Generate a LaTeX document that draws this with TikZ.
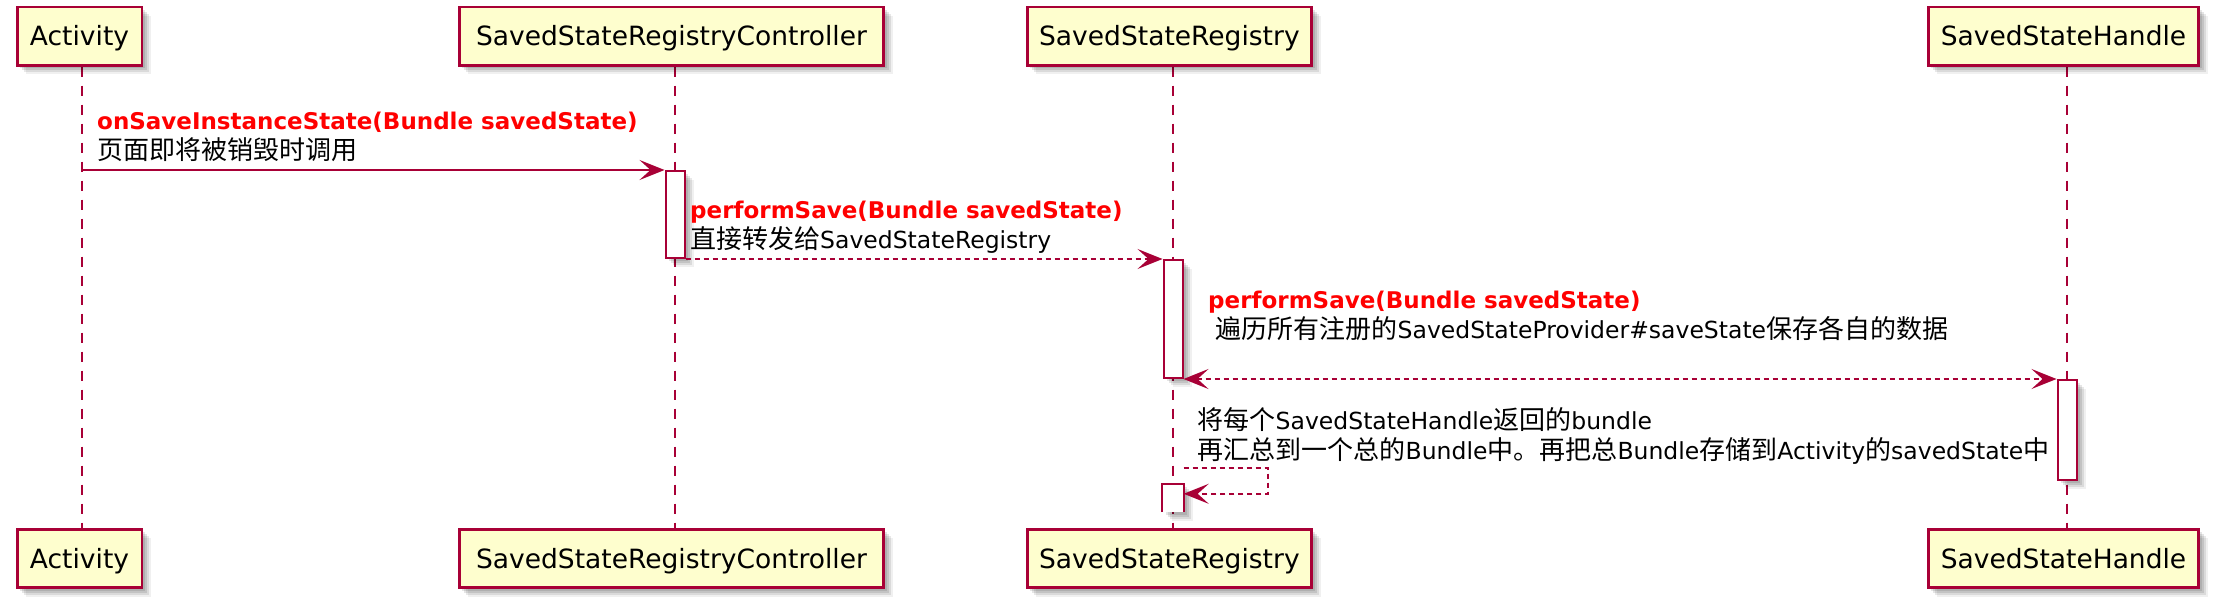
\documentclass[tikz,border=0pt]{standalone}
\usepackage{fontspec}
\setmainfont{DejaVu Sans}
\newfontfamily\cjk{Noto Sans CJK SC}
\usetikzlibrary{arrows.meta,shadows}
\definecolor{pu}{HTML}{A80036}
\definecolor{boxfill}{HTML}{FEFECE}
\definecolor{redtxt}{HTML}{FF0000}
\newcommand\zh[1]{{\cjk\fontsize{26}{30}\selectfont #1}}
\pgfdeclarelayer{bg}
\pgfsetlayers{bg,main}
\tikzset{
  softshadow/.style={
    general shadow={shadow xshift=3pt, shadow yshift=-3pt, fill=black, opacity=0.10},
    general shadow={shadow xshift=5pt, shadow yshift=-5pt, fill=black, opacity=0.10},
    general shadow={shadow xshift=7pt, shadow yshift=-7pt, fill=black, opacity=0.09},
    general shadow={shadow xshift=9pt, shadow yshift=-9pt, fill=black, opacity=0.06}},
  participant/.style={draw=pu, line width=2.8pt, fill=boxfill, inner sep=0pt,
    minimum height=58.2pt, font=\fontsize{26.5}{30}\selectfont,
    text height=19.3pt, text depth=0pt, softshadow},
  actbar/.style={draw=pu, line width=2pt, fill=white, inner sep=0pt,
    minimum width=19pt, softshadow},
  openbar/.style={fill=white, inner sep=0pt, minimum width=21pt, softshadow},
  lifeline/.style={draw=pu, line width=1.9pt, dash pattern=on 10pt off 9pt},
  tip/.tip={Stealth[length=25pt, width=20pt, inset=11pt]},
  msgsolid/.style={draw=pu, line width=2pt, -tip},
  msgdot/.style={draw=pu, line width=2pt, dash pattern=on 5pt off 4pt, -tip},
  msgdotboth/.style={draw=pu, line width=2pt, dash pattern=on 5pt off 4pt, tip-tip},
  lbl/.style={anchor=base west, inner sep=0pt, font=\fontsize{23.5}{28}\selectfont},
  lblred/.style={anchor=base west, inner sep=0pt, text=redtxt,
    font=\fontsize{23}{28}\selectfont\bfseries},
}
\begin{document}
\begin{tikzpicture}[x=1pt,y=-1pt]
\useasboundingbox (0,0) rectangle (2219,609);

% lifeline x positions
\coordinate (LA) at (82,0);
\coordinate (LC) at (675,0);
\coordinate (LR) at (1173,0);
\coordinate (LH) at (2067,0);

% participants
\node[participant, minimum width=124.8pt] (actT)  at (79.5,36.2)   {Activity};
\node[participant, minimum width=424.2pt] (ctrlT) at (671.5,36.2)  {SavedStateRegistryController};
\node[participant, minimum width=284.5pt] (regT)  at (1169.4,36.2) {SavedStateRegistry};
\node[participant, minimum width=270.2pt] (hdlT)  at (2063.5,36.2) {SavedStateHandle};
\node[participant, minimum width=124.8pt] (actB)  at (79.5,558.5)   {Activity};
\node[participant, minimum width=424.2pt] (ctrlB) at (671.5,558.5)  {SavedStateRegistryController};
\node[participant, minimum width=284.5pt] (regB)  at (1169.4,558.5) {SavedStateRegistry};
\node[participant, minimum width=270.2pt] (hdlB)  at (2063.5,558.5) {SavedStateHandle};

\begin{pgfonlayer}{bg}
\fill[white] (0,0) rectangle (2219,609);
\draw[lifeline] (actT.south -| LA) -- (actB.north -| LA);
\draw[lifeline] (ctrlT.south -| LC) -- (ctrlB.north -| LC);
\draw[lifeline] (regT.south -| LR) -- (regB.north -| LR);
\draw[lifeline] (hdlT.south -| LH) -- (hdlB.north -| LH);
\end{pgfonlayer}

% activation bars
\node[actbar, minimum height=87pt]  (ctrlA) at (675,214.5) {};
\node[actbar, minimum height=118pt] (regA)  at (1173,319) {};
\node[actbar, minimum height=100pt] (hdlA)  at (2067,430) {};
\node[openbar, minimum height=28pt] (regA2) at (1173,498) {};
\draw[pu, line width=2pt] (regA2.south west) -- (regA2.north west) -- (regA2.north east) -- (regA2.south east);

% message 1
\coordinate (m1s) at (82,170);
\draw[msgsolid] (m1s) -- (m1s -| ctrlA.north west);
\node[lblred] (m1a) at (97,129.5) {onSaveInstanceState(Bundle savedState)};
\node[lbl] (m1b) at (97,160) {\zh{页面即将被销毁时调用}};

% message 2
\draw[msgdot] (ctrlA.south east) -- (regA.north west);
\node[lblred] (m2a) at (690,218.5) {performSave(Bundle savedState)};
\node[lbl] (m2b) at (690,248.5) {\zh{直接转发给}SavedStateRegistry};

% message 3
\draw[msgdotboth] (regA.south east) -- (hdlA.north west);
\node[lblred] (m3a) at (1208,309) {performSave(Bundle savedState)};
\node[lbl] (m3b) at (1208,339) {\ \zh{遍历所有注册的}SavedStateProvider\#saveState\zh{保存各自的数据}};

% message 4 (self)
\coordinate (m4s) at (1183.5,468);
\draw[msgdot] (m4s) -- (1268,468) |- ([yshift=-10pt]regA2.north east);
\node[lbl] (m4a) at (1197.5,429) {\zh{将每个}SavedStateHandle\zh{返回的}bundle};
\node[lbl] (m4b) at (1197.5,459) {\zh{再汇总到一个总的}Bundle\zh{中。再把总}Bundle\zh{存储到}Activity\zh{的}savedState\zh{中}};
\end{tikzpicture}
\end{document}
